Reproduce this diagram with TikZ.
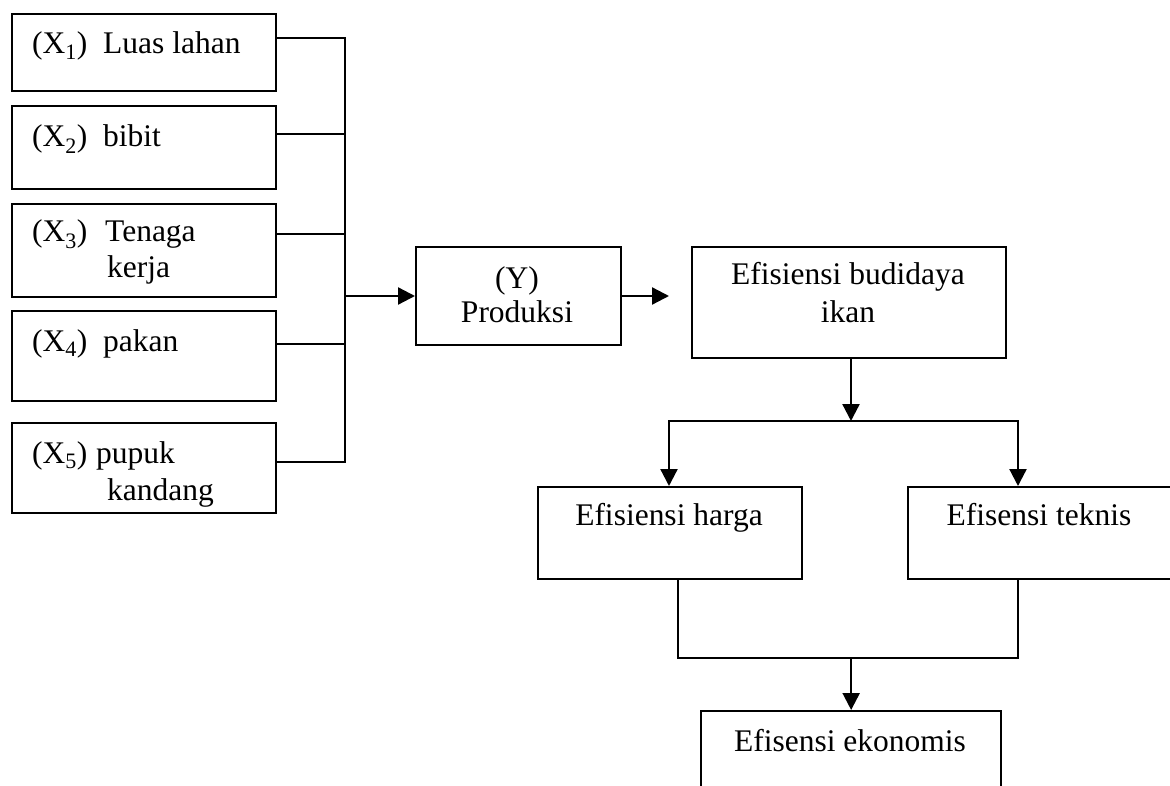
\documentclass[tikz,border=0pt]{standalone}
\usepackage{fontspec}
\setmainfont{Liberation Serif}
\usetikzlibrary{arrows.meta}
\begin{document}
\begin{tikzpicture}[x=1pt,y=-1pt,
  box/.style={draw, line width=2.3pt, inner sep=0pt, anchor=north west},
  lbl/.style={inner sep=0pt, anchor=base west, font=\fontsize{31.5}{36}\selectfont},
  clbl/.style={inner sep=0pt, anchor=base, font=\fontsize{31.5}{36}\selectfont},
  conn/.style={line width=2.3pt, line cap=rect},
  arr/.style={line width=2.3pt, -{Triangle[length=17pt,width=17pt]}}]
\useasboundingbox (0,0) rectangle (1170,786);
\clip (0,0) rectangle (1170,786);

% left input boxes
\node[box, minimum width=264pt, minimum height=77pt] (x1) at (11,13) {};
\node[box, minimum width=264pt, minimum height=83pt] (x2) at (11,105) {};
\node[box, minimum width=264pt, minimum height=93pt] (x3) at (11,203) {};
\node[box, minimum width=264pt, minimum height=90pt] (x4) at (11,310) {};
\node[box, minimum width=264pt, minimum height=90pt] (x5) at (11,422) {};

\node[lbl] (x1a) at (32,54) {(X\textsubscript{1})};
\node[lbl] (x1b) at (103,54) {Luas lahan};
\node[lbl] (x2a) at (32,147) {(X\textsubscript{2})};
\node[lbl] (x2b) at (103,147) {bibit};
\node[lbl] (x3a) at (32,242) {(X\textsubscript{3})};
\node[lbl] (x3b) at (105,242) {Tenaga};
\node[lbl] (x3c) at (107,278) {kerja};
\node[lbl] (x4a) at (32,351) {(X\textsubscript{4})};
\node[lbl] (x4b) at (103,351) {pakan};
\node[lbl] (x5a) at (32,463) {(X\textsubscript{5})};
\node[lbl] (x5b) at (96,463) {pupuk};
\node[lbl] (x5c) at (107,500) {kandang};

% production box
\node[box, minimum width=205pt, minimum height=98pt] (y) at (415,246) {};
\node[clbl] (ya) at (517,289) {(Y)};
\node[clbl] (yb) at (517,323) {Produksi};

% efficiency box
\node[box, minimum width=314pt, minimum height=111pt] (e) at (691,246) {};
\node[clbl] (ea1) at (848,285) {Efisiensi budidaya};
\node[clbl] (ea2) at (848,323) {ikan};

% price / technical boxes
\node[box, minimum width=264pt, minimum height=92pt] (h) at (537,486) {};
\node[clbl] (ht) at (669,525) {Efisiensi harga};
\node[box, minimum width=264pt, minimum height=92pt] (t) at (907,486) {};
\node[clbl] (tt) at (1039,525) {Efisensi teknis};

% economic box (cut at bottom)
\node[box, minimum width=300pt, minimum height=110pt] (k) at (700,710) {};
\node[clbl] (kt) at (850,751) {Efisensi ekonomis};

% bus on the left
\coordinate (b1) at (345,38);
\coordinate (b2) at (345,134);
\coordinate (b3) at (345,234);
\coordinate (b4) at (345,344);
\coordinate (b5) at (345,462);
\coordinate (bm) at (345,296);
\draw[conn] (b1 -| x1.east) -- (b1);
\draw[conn] (b2 -| x2.east) -- (b2);
\draw[conn] (b3 -| x3.east) -- (b3);
\draw[conn] (b4 -| x4.east) -- (b4);
\draw[conn] (b5 -| x5.east) -- (b5);
\draw[conn] (b1) -- (b5);
\draw[arr] (bm) -- (bm -| y.west);

% Y -> efficiency
\coordinate (ea) at (669,296);
\draw[arr] (ea -| y.east) -- (ea);

% split
\coordinate (sp) at (851,421);
\coordinate (hl) at (669,421);
\coordinate (hr) at (1018,421);
\draw[arr] (sp |- e.south) -- (sp);
\draw[conn] (hl) -- (hr);
\draw[arr] (hl) -- (hl |- h.north);
\draw[arr] (hr) -- (hr |- t.north);

% join
\coordinate (ml) at (678,658);
\coordinate (mr) at (1018,658);
\coordinate (mc) at (k.north |- ml);
\draw[conn] (ml |- h.south) -- (ml) -- (mr) -- (mr |- t.south);
\draw[arr] (mc) -- (k.north);
\end{tikzpicture}
\end{document}
